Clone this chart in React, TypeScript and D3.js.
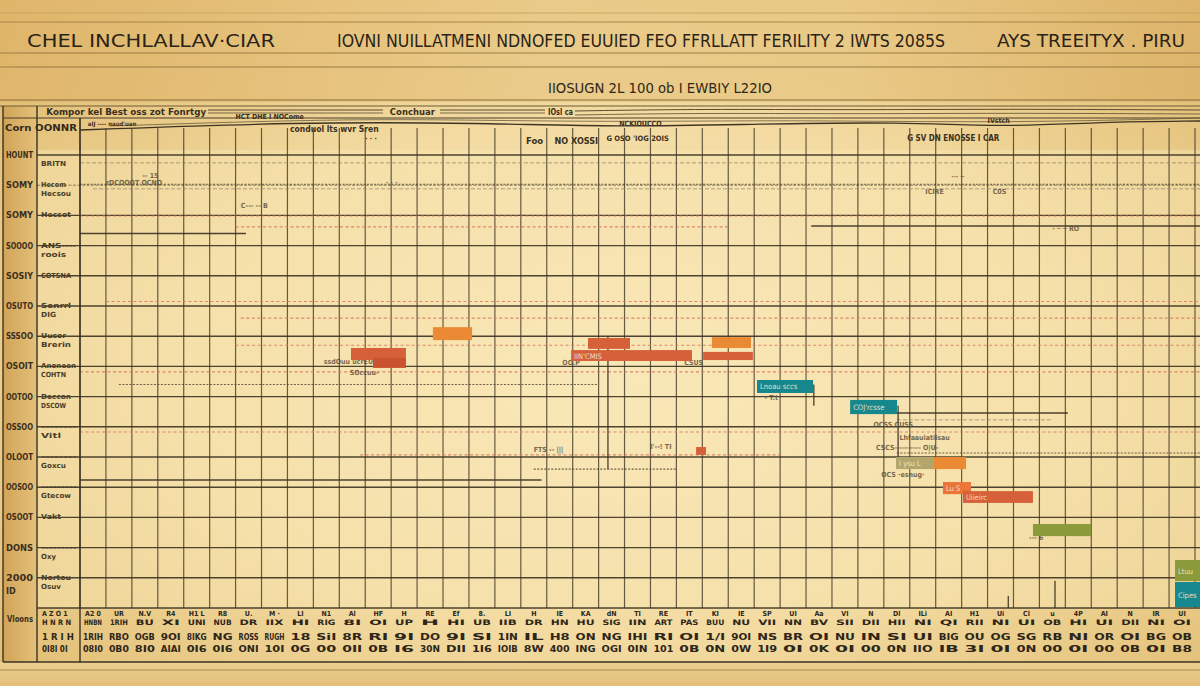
import React from "react";
import * as d3 from "d3";

const W = 1200;
const H = 686;

const titleLeft = "CHEL INCHLALLAV·CIAR";
const titleMain = "IOVNI NUILLATMENI NDNOFED EUUIED FEO FFRLLATT FERILITY 2 IWTS  2085S";
const titleRight = "AYS  TREEITYX . PIRU";
const subtitle = "IIOSUGN  2L 100 ob I EWBIY  L22IO";

const weeks = 43;
const lanes = 15;

const rowLabels = ["HOUNT", "SOMY", "SOMY", "SOOOO", "SOSIY", "OSUTO", "SSSOO", "OSOIT", "OOTOO", "OSSOO", "OLOOT", "OOSOO", "OSOOT", "DONS", "2000"];
const rowSubTop = ["", "Hecom", "Hecsot", "ANS----", "COTSNA", "Senrrl", "Uucor", "Anoneen", "Deccon", "--------", "--------", "---------", "Vakt", "---------", "Nortou"];
const rowSubBot = ["BRITN", "Hecsou", "", "roois", "", "DIG", "Brerin", "COHTN", "DSCOW", "Vitl", "Goxcu", "Gtecow", "", "Oxy", "Osuv"];

const tickRow1 = ["A2 0","UR","N.V","R4","H1 L","R8","U.","M ·","LI","N1","Al","HF","H","RE","Ef","8.","LI","H","IE","KA","dN","TI","RE","IT","KI","IE","SP","UI","Aa","VI","N","Dl","ILi","AI","H1","Ui","Cl","u","4P","AI","N","IR","UI"];
const tickRow2 = ["HNBN","1RIH","BU","XI","UNI","NUB","DR","IIX","HI","RIG","8I","OI","UP","H","HI","UB","IIB","DR","HN","HU","SIG","IIN","ART","PAS","BUU","NU","VII","NN","BV","SII","DII","HII","NI","QI","RII","NI","UI","OB","HI","UI","DII","NI","OI"];
const tickRow3 = ["1RIH","RBO","OGB","9OI","8IKG","NG","ROSS","RUGH","18","SiI","8R","RI","9I","DO","9I","SI","1IN","IL","H8","ON","NG","IHI","RI","OI","1/I","9OI","NS","BR","OI","NU","IN","SI","UI","BIG","OU","OG","SG","RB","NI","OR","OI","BG","OB"];
const tickRow4 = ["08I0","0B0","8I0","AIAI","0I6","0I6","ONI","10I","0G","00","0II","0B","I6","30N","DII","1I6","IOIB","8W","400","ING","OGI","0IN","101","0B","0N","0W","1I9","0I","0K","0I","00","0N","IIO","IB","3I","0I","0N","00","0I","00","0B","0I","B8"];

type Task = { label: string; start: number; end: number; lo: number; hi: number; phase: string };
const tasks: Task[] = [
  { label: "", start: 13.61, end: 15.12, lo: 5.70, hi: 6.13, phase: "amber" },
  { label: "", start: 10.45, end: 12.57, lo: 6.39, hi: 6.79, phase: "rust" },
  { label: "", start: 11.30, end: 12.57, lo: 6.72, hi: 7.05, phase: "brick" },
  { label: "", start: 19.59, end: 21.21, lo: 6.06, hi: 6.42, phase: "rust" },
  { label: "IIN'CMIS", start: 18.94, end: 23.60, lo: 6.46, hi: 6.82, phase: "rust" },
  { label: "", start: 24.37, end: 25.88, lo: 6.03, hi: 6.39, phase: "amber" },
  { label: "", start: 24.03, end: 25.95, lo: 6.52, hi: 6.79, phase: "rust" },
  { label: "", start: 23.76, end: 24.14, lo: 9.67, hi: 9.93, phase: "rust" },
  { label: "Lnoau sccs", start: 26.11, end: 28.27, lo: 7.45, hi: 7.88, phase: "teal" },
  { label: "COJ'rcsse", start: 29.70, end: 31.51, lo: 8.11, hi: 8.58, phase: "teal" },
  { label: "I ysu L", start: 31.47, end: 32.90, lo: 10.0, hi: 10.40, phase: "khaki" },
  { label: "", start: 32.90, end: 34.17, lo: 10.0, hi: 10.40, phase: "amber" },
  { label: "Lu S", start: 33.28, end: 34.36, lo: 10.83, hi: 11.23, phase: "amber2" },
  { label: "Uiieirc", start: 34.05, end: 36.75, lo: 11.13, hi: 11.52, phase: "rust" },
  { label: "", start: 36.75, end: 38.99, lo: 12.22, hi: 12.62, phase: "olive" },
  { label: "Ltuu", start: 42.23, end: 43.4, lo: 13.41, hi: 14.11, phase: "olive" },
  { label: "Cipes", start: 42.23, end: 43.4, lo: 14.14, hi: 14.97, phase: "teal" },
];

const phaseColors: Record<string, string> = {
  amber: "#eb8a35",
  amber2: "#ec7437",
  rust: "#d5603a",
  brick: "#c9522f",
  teal: "#16878d",
  khaki: "#b2a66c",
  olive: "#8b9a3b",
};

type Guide = { lane: number; from: number; to: number; kind: string };
const guides: Guide[] = [
  { lane: 0.26, from: 0, to: 43.4, kind: "gray" },
  { lane: 0.97, from: 0, to: 43.4, kind: "dark" },
  { lane: 1.12, from: 0.5, to: 43.4, kind: "gray" },
  { lane: 2.02, from: 0, to: 43.4, kind: "red" },
  { lane: 2.38, from: 6, to: 25, kind: "red" },
  { lane: 2.6, from: 0, to: 6.4, kind: "solid" },
  { lane: 2.35, from: 28.2, to: 43.4, kind: "solid" },
  { lane: 4.85, from: 1, to: 43.4, kind: "red" },
  { lane: 5.4, from: 6.2, to: 43.4, kind: "red" },
  { lane: 6.3, from: 6.0, to: 43.4, kind: "red" },
  { lane: 7.18, from: 0, to: 43.4, kind: "red" },
  { lane: 7.6, from: 1.5, to: 20, kind: "dark" },
  { lane: 8.54, from: 31.5, to: 38.1, kind: "solid" },
  { lane: 8.77, from: 31.5, to: 37.5, kind: "gray" },
  { lane: 9.17, from: 0, to: 43.4, kind: "red" },
  { lane: 9.87, from: 31.5, to: 43.4, kind: "dark" },
  { lane: 9.93, from: 10.8, to: 27, kind: "red" },
  { lane: 10.76, from: 0, to: 17.8, kind: "solid" },
  { lane: 10.4, from: 17.5, to: 23, kind: "dark" },
];

type Marker = { week: number; from: number; to: number };
const markers: Marker[] = [
  { week: 20.36, from: 6.0, to: 10.4 },
  { week: 37.6, from: 14.1, to: 15 },
  { week: 35.8, from: 14.6, to: 15 },
  { week: 28.3, from: 7.6, to: 8.3 },
  { week: 31.55, from: 8.3, to: 10.0 },
];

type Note = { week: number; lane: number; text: string };
const notes: Note[] = [
  { week: 1.0, lane: 1.0, text: "rDCOOOT OCNO" },
  { week: 2.4, lane: 0.75, text: "-- 15" },
  { week: 6.2, lane: 1.75, text: "C---  --  B" },
  { week: 11.8, lane: 1.0, text: "·  · ·" },
  { week: 9.4, lane: 6.92, text: "ssdOuu ucrEUS" },
  { week: 10.4, lane: 7.3, text: "SOccuu-" },
  { week: 18.6, lane: 6.95, text: "OO.P" },
  { week: 23.3, lane: 6.95, text: "CSUS" },
  { week: 17.5, lane: 9.85, text: "FTS  -- |||" },
  { week: 22.0, lane: 9.75, text: "l'--! TI" },
  { week: 30.6, lane: 9.0, text: "OCSS  CUSS" },
  { week: 31.6, lane: 9.45, text: "Lhfaauiatiisau" },
  { week: 30.7, lane: 9.78, text: "CSCS---------- O|U-" },
  { week: 30.9, lane: 10.65, text: "OCS ·esnug·" },
  { week: 36.6, lane: 12.75, text: "--- 6" },
  { week: 33.6, lane: 0.8, text: "··· ─" },
  { week: 32.6, lane: 1.3, text: "ICIRE" },
  { week: 35.2, lane: 1.3, text: "C0S" },
  { week: 37.5, lane: 2.5, text: "·  ─ ─  RO" },
  { week: 26.4, lane: 8.1, text: "-  T.t" },
];

const headerTop = [
  { week: -1.3, text: "Kompor kel Best oss zot Fonrtgy", len: 160 },
  { week: 11.95, text: "Conchuar", len: 45 },
  { week: 18.05, text: "IOsl ca", len: 25 },
];
const headerMid = [
  { week: 0.3, lane: -0.95, text: "aIJ ----  naud'uan", size: 6 },
  { week: 6.0, lane: -1.2, text: "HCT DHE I NOCome", size: 7 },
  { week: 8.1, lane: -0.75, text: "conduol lts wvr Sren", size: 8.5 },
  { week: 17.2, lane: -0.35, text: "Foo", size: 9.5 },
  { week: 18.3, lane: -0.35, text: "NO XOSSI", size: 9 },
  { week: 20.8, lane: -0.95, text: "NCKIOUCCO", size: 7 },
  { week: 20.3, lane: -0.45, text: "G OSO  'IOG  2OIS", size: 7.5 },
  { week: 35.0, lane: -1.05, text: "IVstch", size: 7 },
  { week: 31.9, lane: -0.45, text: "G   SV   DN  ENOSSE  I CAR", size: 8 },
  { week: 11.0, lane: -0.45, text: "·   ·      ·", size: 7 },
];

const x = d3.scaleLinear().domain([0, weeks]).range([80, 1195]);
const y = d3.scaleLinear().domain([0, lanes]).range([155, 608]);

const narrow = "'Liberation Sans Narrow','DejaVu Sans Condensed',sans-serif";

function guideStyle(kind: string) {
  switch (kind) {
    case "red":
      return { stroke: "#d77a5e", dash: "3 2.5", w: 1.1, op: 0.85 };
    case "gray":
      return { stroke: "#8f806a", dash: "4 2", w: 1, op: 0.7 };
    case "dark":
      return { stroke: "#4a4030", dash: "2 1.5", w: 1.1, op: 0.8 };
    default:
      return { stroke: "#3b3222", dash: undefined, w: 1.5, op: 0.9 };
  }
}

const wave = d3.line<[number, number]>().curve(d3.curveBasis);

export default function App() {
  const gridWeeks = d3.range(0, weeks + 1);
  const rowIdx = d3.range(0, lanes + 1);
  return (
    <svg width={W} height={H} style={{ position: "absolute", left: 0, top: 0, display: "block" }}>
      <defs>
        <radialGradient id="bg" cx="52%" cy="55%" r="75%">
          <stop offset="0" stopColor="#f9e8bb" />
          <stop offset="0.5" stopColor="#f3dba2" />
          <stop offset="1" stopColor="#ddb668" />
        </radialGradient>
        <linearGradient id="top" x1="0" x2="1" y1="0" y2="0">
          <stop offset="0" stopColor="#dfb56a" />
          <stop offset="0.45" stopColor="#eaca88" />
          <stop offset="0.7" stopColor="#e9c986" />
          <stop offset="1" stopColor="#ddb46a" />
        </linearGradient>
        <linearGradient id="left" x1="0" x2="1" y1="0" y2="0">
          <stop offset="0" stopColor="#d1a458" />
          <stop offset="1" stopColor="#e4c07a" />
        </linearGradient>
        <linearGradient id="bottom" x1="0" x2="0" y1="0" y2="1">
          <stop offset="0" stopColor="#ecd092" />
          <stop offset="1" stopColor="#e3bf78" />
        </linearGradient>
      </defs>

      <rect x={0} y={0} width={W} height={H} fill="url(#bg)" />
      <rect x={0} y={0} width={W} height={102} fill="url(#top)" opacity={0.92} />
      <rect x={0} y={662} width={W} height={24} fill="url(#bottom)" />
      <rect x={37} y={150} width={1163} height={458} fill="#f8e6b4" opacity={0.45} />
      <rect x={3} y={106} width={34} height={556} fill="url(#left)" />

      {/* top rules */}
      <line x1={0} x2={W} y1={13} y2={13} stroke="#c9a767" strokeWidth={1} />
      <line x1={0} x2={W} y1={22} y2={22} stroke="#a78548" strokeWidth={1.2} />
      <line x1={0} x2={W} y1={53} y2={53} stroke="#9c7d45" strokeWidth={1.2} />
      <line x1={0} x2={W} y1={67} y2={67} stroke="#9c7d45" strokeWidth={1.2} />
      <line x1={0} x2={W} y1={100} y2={100} stroke="#8a6f3e" strokeWidth={1.2} />
      <line x1={0} x2={W} y1={106} y2={106} stroke="#6e5a34" strokeWidth={1.2} />

      {/* titles */}
      <text x={27} y={46.5} fontFamily={narrow} fontSize={18.5} fill="#2a2317" textLength={248} lengthAdjust="spacingAndGlyphs">{titleLeft}</text>
      <text x={337} y={46.5} fontFamily={narrow} fontSize={18.5} fill="#2a2317" textLength={608} lengthAdjust="spacingAndGlyphs">{titleMain}</text>
      <text x={997} y={46.5} fontFamily={narrow} fontSize={18.5} fill="#2a2317" textLength={188} lengthAdjust="spacingAndGlyphs">{titleRight}</text>
      <text x={548} y={93} fontFamily={narrow} fontSize={14.5} fill="#2e2719" textLength={224} lengthAdjust="spacingAndGlyphs">{subtitle}</text>

      {/* header */}
      <line x1={3} x2={W} y1={118} y2={118} stroke="#4a3f2a" strokeWidth={1.2} />
      {headerTop.map((h, i) => (
        <text key={"ht" + i} x={x(h.week)} y={115} fontFamily={narrow} fontWeight="bold" fontSize={8.5} fill="#3a3020" textLength={h.len} lengthAdjust="spacingAndGlyphs">{h.text}</text>
      ))}
      <line x1={208} x2={383} y1={110} y2={110} stroke="#5a4c32" strokeWidth={1} />
      <line x1={208} x2={383} y1={113} y2={113} stroke="#5a4c32" strokeWidth={0.8} />
      <line x1={440} x2={545} y1={110} y2={110} stroke="#5a4c32" strokeWidth={1} />
      <line x1={440} x2={545} y1={113} y2={113} stroke="#5a4c32" strokeWidth={0.8} />
      <path d={wave([[575, 111], [700, 109], [850, 110], [1000, 109], [1200, 110]]) || ""} fill="none" stroke="#5a4c32" strokeWidth={1} />
      <path d={wave([[575, 115], [700, 113], [850, 114], [1000, 113], [1200, 114]]) || ""} fill="none" stroke="#5a4c32" strokeWidth={0.8} />
      <path d={wave([[80, 130], [300, 122], [480, 123], [620, 127], [760, 124], [900, 122], [1010, 127], [1100, 122], [1200, 121]]) || ""} fill="none" stroke="#3f3424" strokeWidth={1.3} />
      <path d={wave([[110, 126], [330, 119], [470, 120], [620, 122], [800, 120], [1000, 123], [1200, 118]]) || ""} fill="none" stroke="#6a5a3c" strokeWidth={0.8} />
      <text x={5} y={131} fontFamily={narrow} fontWeight="bold" fontSize={9} fill="#33291a" textLength={72} lengthAdjust="spacingAndGlyphs">Corn OONNR</text>
      {headerMid.map((h, i) => (
        <text key={"hm" + i} x={x(h.week)} y={y(h.lane)} fontFamily={narrow} fontWeight="bold" fontSize={h.size} fill="#3a3020">{h.text}</text>
      ))}

      {/* vertical grid */}
      {gridWeeks.map((w) => (
        <line key={"v" + w} x1={x(w)} x2={x(w)} y1={w === 0 ? 118 : 128} y2={608} stroke="#4d4330" strokeWidth={1.2} opacity={0.85} />
      ))}

      {/* row lines */}
      {rowIdx.map((r) => (
        <line key={"h" + r} x1={37} x2={W} y1={y(r)} y2={y(r)} stroke="#3b3222" strokeWidth={r === 1 ? 0.8 : 1.4} strokeDasharray={r === 1 ? "3 1.5" : undefined} opacity={r === 1 ? 0.7 : 0.9} />
      ))}

      {/* guides */}
      {guides.map((g, i) => {
        const s = guideStyle(g.kind);
        return (
          <line key={"g" + i} x1={x(g.from)} x2={x(g.to)} y1={y(g.lane)} y2={y(g.lane)} stroke={s.stroke} strokeDasharray={s.dash} strokeWidth={s.w} opacity={s.op} />
        );
      })}
      {markers.map((m, i) => (
        <line key={"m" + i} x1={x(m.week)} x2={x(m.week)} y1={y(m.from)} y2={y(m.to)} stroke="#3b3222" strokeWidth={1.4} opacity={0.85} />
      ))}

      {/* frame */}
      <line x1={3} x2={3} y1={106} y2={662} stroke="#3b3222" strokeWidth={1.4} />
      <line x1={37} x2={37} y1={106} y2={662} stroke="#3b3222" strokeWidth={1.4} />
      <line x1={80} x2={80} y1={118} y2={662} stroke="#3b3222" strokeWidth={1.4} />
      <line x1={3} x2={W} y1={662} y2={662} stroke="#3b3222" strokeWidth={1.4} />
      <line x1={0} x2={W} y1={670} y2={670} stroke="#a98a50" strokeWidth={1} />

      {/* row labels */}
      {rowLabels.map((l, i) => (
        <text key={"rl" + i} x={6} y={y(i) + 3} fontFamily={narrow} fontWeight="bold" fontSize={9} fill="#3a2e1c" textLength={27} lengthAdjust="spacingAndGlyphs">{l}</text>
      ))}
      <text x={6} y={y(14.55)} fontFamily={narrow} fontWeight="bold" fontSize={9} fill="#3a2e1c">ID</text>
      {rowSubTop.map((l, i) => (l ? (
        <text key={"st" + i} x={41} y={y(i) + 2} fontFamily={narrow} fontWeight="bold" fontSize={7} fill="#4a3d28" textLength={Math.min(36, l.length * 5)} lengthAdjust="spacingAndGlyphs">{l}</text>
      ) : null))}
      {rowSubBot.map((l, i) => (l ? (
        <text key={"sb" + i} x={41} y={y(i) + 11} fontFamily={narrow} fontWeight="bold" fontSize={7} fill="#4a3d28" textLength={Math.min(34, l.length * 5)} lengthAdjust="spacingAndGlyphs">{l}</text>
      ) : null))}

      {/* notes */}
      {notes.map((n, i) => (
        <text key={"n" + i} x={x(n.week)} y={y(n.lane)} fontFamily={narrow} fontSize={7} fontWeight="bold" fill="#5a4a32" opacity={0.8}>{n.text}</text>
      ))}

      {/* tasks */}
      {tasks.map((t, i) => (
        <g key={"t" + i}>
          <rect x={x(t.start)} y={y(t.lo)} width={x(t.end) - x(t.start)} height={y(t.hi) - y(t.lo)} fill={phaseColors[t.phase]} />
          {t.label ? (
            <text x={x(t.start) + 3} y={(y(t.lo) + y(t.hi)) / 2 + 3} fontFamily={narrow} fontSize={7.5} fill="#f3e8d4" opacity={0.9}>{t.label}</text>
          ) : null}
        </g>
      ))}

      {/* bottom axis labels */}
      <text x={7} y={622} fontFamily={narrow} fontWeight="bold" fontSize={8} fill="#3a2e1c" textLength={26} lengthAdjust="spacingAndGlyphs">Vloons</text>
      {gridWeeks.slice(0, weeks).map((w) => {
        const cx = (x(w) + x(w + 1)) / 2;
        return (
          <g key={"tk" + w} fontFamily={narrow} fontWeight="bold" fill="#2e2618" textAnchor="middle">
            <text x={cx} y={616} fontSize={7}>{tickRow1[w]}</text>
            <text x={cx} y={625} fontSize={7.5} textLength={18} lengthAdjust="spacingAndGlyphs">{tickRow2[w]}</text>
            <text x={cx} y={640} fontSize={9.5} textLength={20} lengthAdjust="spacingAndGlyphs">{tickRow3[w]}</text>
            <text x={cx} y={652} fontSize={8} textLength={20} lengthAdjust="spacingAndGlyphs">{tickRow4[w]}</text>
          </g>
        );
      })}
      <text x={42} y={616} fontFamily={narrow} fontWeight="bold" fontSize={7} fill="#2e2618">A Z O 1</text>
      <text x={42} y={625} fontFamily={narrow} fontWeight="bold" fontSize={7.5} fill="#2e2618">H N R N</text>
      <text x={42} y={640} fontFamily={narrow} fontWeight="bold" fontSize={9.5} fill="#2e2618">1 R I H</text>
      <text x={42} y={652} fontFamily={narrow} fontWeight="bold" fontSize={8} fill="#2e2618">0I8I 0I</text>
    </svg>
  );
}
